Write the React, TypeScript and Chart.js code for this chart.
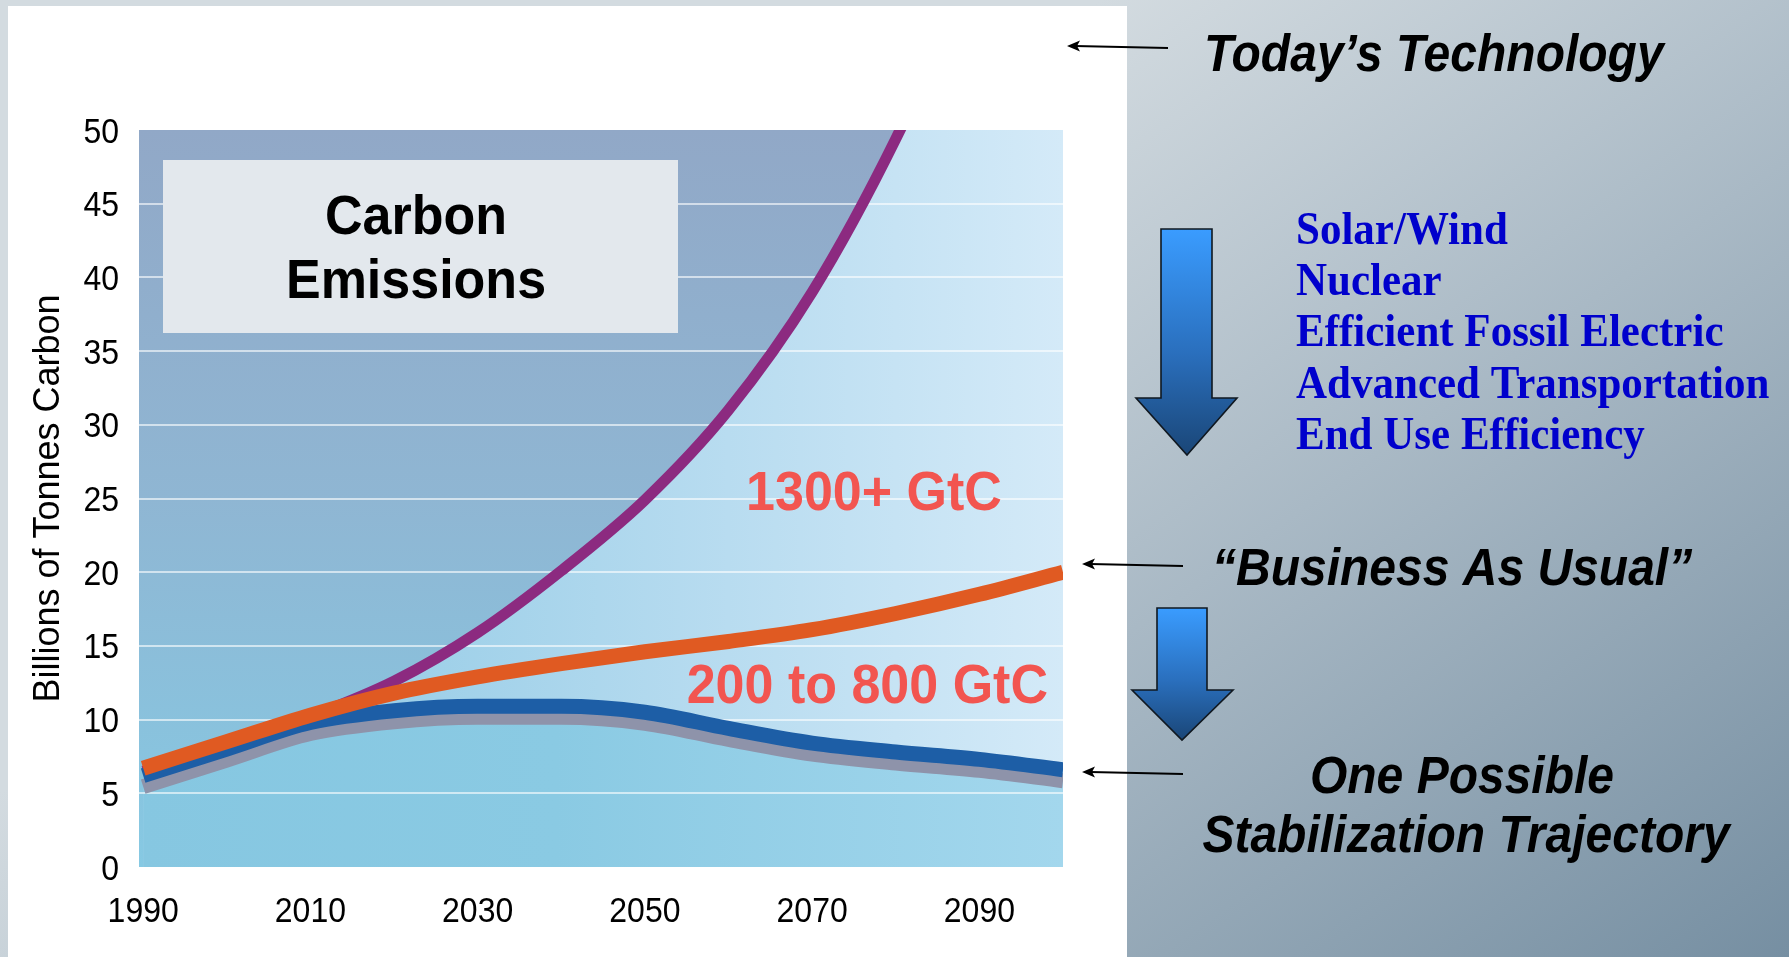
import { useEffect, useRef } from "react";
import { Chart, registerables } from "chart.js";

Chart.register(...registerables);

// Emission scenarios, billions of tonnes of carbon per year
const years = [1990, 2000, 2010, 2020, 2030, 2040, 2050, 2060, 2070, 2080, 2090, 2100];
const todaysTechnology = [6.5, 8.2, 10.2, 12.6, 15.9, 20.1, 24.9, 31.0, 39.0, 49.4, 62.0, 77.0];
const businessAsUsual = [6.7, 8.5, 10.3, 11.8, 12.9, 13.8, 14.6, 15.3, 16.1, 17.2, 18.5, 20.0];
const stabilization = [6.2, 8.0, 9.8, 10.6, 10.9, 10.9, 10.5, 9.4, 8.4, 7.8, 7.3, 6.6];

const xTicks = [1990, 2010, 2030, 2050, 2070, 2090];
const yTicks = [0, 5, 10, 15, 20, 25, 30, 35, 40, 45, 50];

const cumulativeLabels = [
  { text: "1300+ GtC", year: 2077.4, value: 24.2 },
  { text: "200 to 800 GtC", year: 2076.6, value: 11.1 },
];
const technologies = [
  "Solar/Wind",
  "Nuclear",
  "Efficient Fossil Electric",
  "Advanced Transportation",
  "End Use Efficiency",
];

const SANS = "'Liberation Sans', Arial, sans-serif";
const SERIF = "'Liberation Serif', 'Times New Roman', serif";
const W = 1789;
const H = 957;

function stretchedText(
  ctx: CanvasRenderingContext2D,
  text: string,
  x: number,
  y: number,
  font: string,
  color: string,
  align: CanvasTextAlign = "left",
  sy = 1.07
) {
  ctx.save();
  ctx.translate(x, y);
  ctx.scale(1, sy);
  ctx.font = font;
  ctx.fillStyle = color;
  ctx.textAlign = align;
  ctx.textBaseline = "alphabetic";
  ctx.fillText(text, 0, 0);
  ctx.restore();
}

function blockArrow(
  ctx: CanvasRenderingContext2D,
  sl: number,
  sr: number,
  top: number,
  headBase: number,
  hl: number,
  hr: number,
  tipX: number,
  tipY: number
) {
  const g = ctx.createLinearGradient(0, top, 0, tipY);
  g.addColorStop(0, "#3a9cff");
  g.addColorStop(0.55, "#2a6fbd");
  g.addColorStop(1, "#1a4677");
  ctx.save();
  ctx.beginPath();
  ctx.moveTo(sl, top);
  ctx.lineTo(sr, top);
  ctx.lineTo(sr, headBase);
  ctx.lineTo(hr, headBase);
  ctx.lineTo(tipX, tipY);
  ctx.lineTo(hl, headBase);
  ctx.lineTo(sl, headBase);
  ctx.closePath();
  ctx.fillStyle = g;
  ctx.fill();
  ctx.lineWidth = 1.6;
  ctx.strokeStyle = "#101820";
  ctx.stroke();
  ctx.restore();
}

function leader(ctx: CanvasRenderingContext2D, x1: number, y1: number, x2: number, y2: number) {
  ctx.save();
  ctx.strokeStyle = "#000";
  ctx.fillStyle = "#000";
  ctx.lineWidth = 2;
  ctx.beginPath();
  ctx.moveTo(x1, y1);
  ctx.lineTo(x2 + 8, y2);
  ctx.stroke();
  ctx.beginPath();
  ctx.moveTo(x2, y2);
  ctx.lineTo(x2 + 13, y2 - 5.5);
  ctx.lineTo(x2 + 10, y2);
  ctx.lineTo(x2 + 13, y2 + 5.5);
  ctx.closePath();
  ctx.fill();
  ctx.restore();
}

const slidePlugin = {
  id: "slide",
  beforeDraw(chart: any) {
    const { ctx, chartArea: a } = chart;
    ctx.save();
    const bg = ctx.createLinearGradient(1100, 0, 1789, 957);
    bg.addColorStop(0, "#d3dbe0");
    bg.addColorStop(0.45, "#a9b9c5");
    bg.addColorStop(1, "#768fa2");
    ctx.fillStyle = bg;
    ctx.fillRect(0, 0, W, H);
    ctx.fillStyle = "#ffffff";
    ctx.fillRect(8, 6, 1119, H - 6);

    const pg = ctx.createLinearGradient(0, a.top, 0, a.bottom);
    pg.addColorStop(0, "#91a8c7");
    pg.addColorStop(0.5, "#8fb6d3");
    pg.addColorStop(1, "#86c9e3");
    ctx.fillStyle = pg;
    ctx.fillRect(a.left, a.top, a.right - a.left, a.bottom - a.top);
    ctx.restore();
  },
  beforeDatasetsDraw(chart: any) {
    const { ctx, chartArea: a, scales } = chart;
    ctx.save();
    ctx.strokeStyle = "rgba(255,255,255,0.6)";
    ctx.lineWidth = 2;
    for (const t of scales.y.ticks) {
      if (t.value === 0 || t.value === 50) continue;
      const y = Math.round(scales.y.getPixelForValue(t.value));
      ctx.beginPath();
      ctx.moveTo(a.left, y);
      ctx.lineTo(a.right, y);
      ctx.stroke();
    }
    ctx.restore();
  },
  beforeDatasetDraw(chart: any, args: any) {
    if (args.index === 1) {
      const ctx = chart.ctx;
      ctx.save();
      ctx.shadowColor = "#8e93aa";
      ctx.shadowOffsetY = 11;
      ctx.shadowBlur = 0;
    }
  },
  afterDatasetDraw(chart: any, args: any) {
    if (args.index === 1) chart.ctx.restore();
  },
  afterDraw(chart: any) {
    const { ctx, scales, chartArea: a } = chart;

    // axis tick labels
    const tickFont = `32px ${SANS}`;
    for (const t of scales.y.ticks) {
      const y = scales.y.getPixelForValue(t.value);
      stretchedText(ctx, String(t.value), a.left - 20, y + 12.5, tickFont, "#000", "right", 1.12);
    }
    for (const t of scales.x.ticks) {
      const x = scales.x.getPixelForValue(t.value);
      stretchedText(ctx, String(t.value), x, a.bottom + 55, tickFont, "#000", "center", 1.12);
    }

    // title box
    ctx.save();
    ctx.fillStyle = "#e3e8ed";
    ctx.fillRect(163, 160, 515, 173);
    ctx.restore();
    stretchedText(ctx, "Carbon", 416, 234, `bold 52px ${SANS}`, "#000", "center");
    stretchedText(ctx, "Emissions", 416, 298, `bold 52px ${SANS}`, "#000", "center");

    // cumulative emission labels
    for (const l of cumulativeLabels) {
      stretchedText(
        ctx,
        l.text,
        scales.x.getPixelForValue(l.year),
        scales.y.getPixelForValue(l.value),
        `bold 52px ${SANS}`,
        "#f25550",
        "center"
      );
    }

    // right-hand annotations
    stretchedText(ctx, "Today\u2019s Technology", 1204, 71, `italic bold 48px ${SANS}`, "#000");
    leader(ctx, 1168, 48, 1067, 46);

    blockArrow(ctx, 1161, 1212, 229, 398, 1136, 1237, 1187, 455);
    technologies.forEach((t, i) => {
      stretchedText(ctx, t, 1296, 244 + i * 51.2, `bold 43px ${SERIF}`, "#0000cc");
    });

    stretchedText(ctx, "\u201cBusiness As Usual\u201d", 1212, 585, `italic bold 48px ${SANS}`, "#000");
    leader(ctx, 1183, 566, 1082, 564);

    blockArrow(ctx, 1157, 1207, 608, 690, 1132, 1233, 1182, 740);

    stretchedText(ctx, "One Possible", 1462, 793, `italic bold 48px ${SANS}`, "#000", "center");
    stretchedText(ctx, "Stabilization Trajectory", 1466, 852, `italic bold 48px ${SANS}`, "#000", "center");
    leader(ctx, 1183, 774, 1082, 772);
  },
};

function series(values: number[]) {
  return years.map((x, i) => ({ x, y: values[i] }));
}

export default function App() {
  const ref = useRef<HTMLCanvasElement>(null);

  useEffect(() => {
    if (!ref.current) return;
    const chart = new Chart(ref.current, {
      type: "line",
      data: {
        datasets: [
          {
            label: "Business As Usual",
            data: series(businessAsUsual),
            borderColor: "#e05a22",
            borderWidth: 15,
            fill: false,
            clip: 0,
          },
          {
            label: "Stabilization Trajectory",
            data: series(stabilization),
            borderColor: "#1d5ea6",
            borderWidth: 15,
            fill: "origin",
            clip: 0,
            backgroundColor: (c: any) => {
              const a = c.chart.chartArea;
              if (!a) return "transparent";
              const g = c.chart.ctx.createLinearGradient(a.left, 0, a.right, 0);
              g.addColorStop(0, "#86c7e1");
              g.addColorStop(0.45, "#8acae3");
              g.addColorStop(1, "#a3d7ed");
              return g;
            },
          },
          {
            label: "Today's Technology",
            data: series(todaysTechnology),
            borderColor: "#8c2a80",
            borderWidth: 11,
            fill: "origin",
            clip: 0,
            backgroundColor: (c: any) => {
              const a = c.chart.chartArea;
              if (!a) return "transparent";
              const xs = c.chart.scales.x;
              const x0 = xs ? xs.getPixelForValue(2020) : a.left;
              const g = c.chart.ctx.createLinearGradient(x0, 0, a.right, 0);
              g.addColorStop(0, "#9ccfe8");
              g.addColorStop(0.5, "#b8dcf0");
              g.addColorStop(1, "#d4eaf8");
              return g;
            },
          },
        ],
      },
      options: {
        responsive: false,
        animation: false,
        events: [],
        layout: { padding: { left: 0, right: W - 1063, top: 130, bottom: 0 } },
        elements: {
          point: { radius: 0 },
          line: { borderJoinStyle: "round", cubicInterpolationMode: "monotone" },
        },
        plugins: {
          legend: { display: false },
          tooltip: { enabled: false },
          filler: { drawTime: "beforeDatasetsDraw" },
        },
        scales: {
          x: {
            type: "linear",
            min: 1989.5,
            max: 2100,
            grid: { display: false },
            border: { display: false },
            afterBuildTicks: (s: any) => {
              s.ticks = xTicks.map((v) => ({ value: v }));
            },
            afterFit: (s: any) => {
              s.height = 90;
            },
            ticks: { display: false },
          },
          y: {
            min: 0,
            max: 50,
            grid: { display: false },
            border: { display: false },
            afterBuildTicks: (s: any) => {
              s.ticks = yTicks.map((v) => ({ value: v }));
            },
            afterFit: (s: any) => {
              s.width = 139;
            },
            ticks: { display: false },
            title: {
              display: true,
              text: "Billions of Tonnes Carbon",
              color: "#000",
              font: { family: SANS, size: 36 },
              padding: { top: 27, bottom: 0 },
            },
          },
        },
      },
      plugins: [slidePlugin],
    } as any);
    return () => chart.destroy();
  }, []);

  return (
    <div style={{ position: "absolute", left: 0, top: 0, width: W, height: H, overflow: "hidden" }}>
      <canvas ref={ref} width={W} height={H} style={{ display: "block", width: W, height: H }} />
    </div>
  );
}
